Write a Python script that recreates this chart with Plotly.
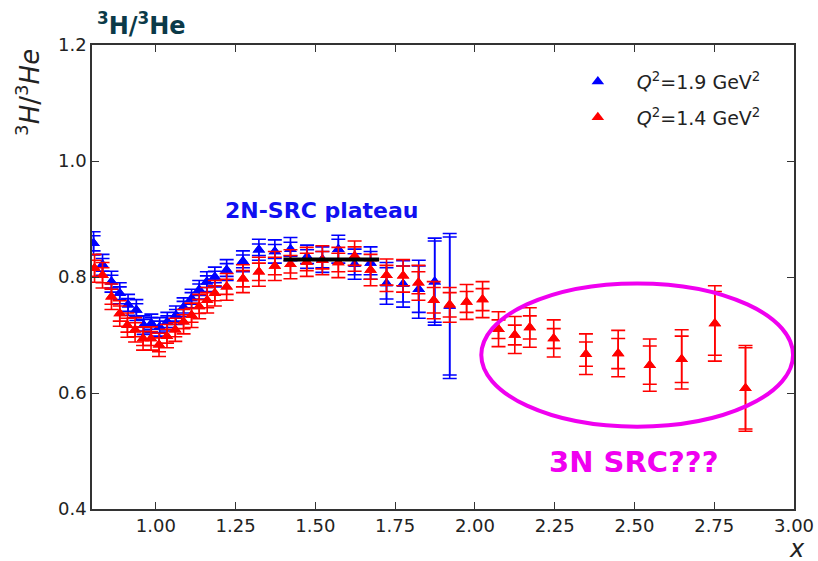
import plotly.graph_objects as go

# Q^2 = 1.9 GeV^2 (blue)
x_hi = [0.805, 0.833, 0.861, 0.887, 0.913, 0.939, 0.962, 0.986, 1.012, 1.036,
        1.063, 1.087, 1.112, 1.136, 1.160, 1.185, 1.222, 1.273, 1.323, 1.373,
        1.422, 1.474, 1.522, 1.572, 1.623, 1.673, 1.723, 1.775, 1.824, 1.874,
        1.921]
y_hi = [0.858, 0.821, 0.792, 0.772, 0.752, 0.743, 0.717, 0.720, 0.714, 0.723,
        0.734, 0.748, 0.763, 0.778, 0.792, 0.800, 0.812, 0.827, 0.847, 0.844,
        0.848, 0.835, 0.830, 0.848, 0.822, 0.824, 0.789, 0.788, 0.779, 0.792,
        0.750]
tot_hi = [0.020, 0.018, 0.018, 0.018, 0.018, 0.018, 0.016, 0.016, 0.016, 0.016,
          0.016, 0.016, 0.016, 0.016, 0.017, 0.017, 0.018, 0.018, 0.018, 0.020,
          0.020, 0.020, 0.022, 0.024, 0.026, 0.028, 0.036, 0.040, 0.050, 0.075,
          0.125]
stat_hi = [0.013, 0.011, 0.011, 0.011, 0.011, 0.011, 0.010, 0.010, 0.010, 0.010,
           0.010, 0.010, 0.010, 0.010, 0.010, 0.010, 0.011, 0.011, 0.010, 0.012,
           0.012, 0.012, 0.014, 0.017, 0.018, 0.020, 0.027, 0.031, 0.040, 0.070,
           0.119]

# Q^2 = 1.4 GeV^2 (red)
x_lo = [0.808, 0.833, 0.861, 0.887, 0.911, 0.935, 0.960, 0.985, 1.010, 1.035,
        1.061, 1.087, 1.112, 1.136, 1.161, 1.185, 1.222, 1.273, 1.323, 1.373,
        1.422, 1.473, 1.522, 1.572, 1.623, 1.673, 1.723, 1.775, 1.823, 1.871,
        1.921, 1.974, 2.024, 2.074, 2.125, 2.172, 2.247, 2.348, 2.449, 2.548,
        2.648, 2.752, 2.848]
y_lo = [0.815, 0.803, 0.766, 0.737, 0.717, 0.709, 0.694, 0.694, 0.683, 0.698,
        0.709, 0.723, 0.734, 0.749, 0.760, 0.772, 0.783, 0.797, 0.809, 0.819,
        0.822, 0.826, 0.829, 0.825, 0.836, 0.812, 0.803, 0.802, 0.790, 0.760,
        0.752, 0.757, 0.761, 0.710, 0.700, 0.713, 0.694, 0.667, 0.668, 0.648,
        0.658, 0.720, 0.608]
tot_lo = [0.024, 0.022, 0.022, 0.022, 0.021, 0.021, 0.020, 0.020, 0.020, 0.020,
          0.020, 0.021, 0.021, 0.021, 0.022, 0.022, 0.023, 0.024, 0.025, 0.025,
          0.025, 0.025, 0.025, 0.026, 0.026, 0.027, 0.028, 0.028, 0.030, 0.032,
          0.030, 0.030, 0.031, 0.030, 0.032, 0.034, 0.032, 0.035, 0.040, 0.045,
          0.051, 0.065, 0.074]
stat_lo = [0.014, 0.013, 0.013, 0.013, 0.012, 0.012, 0.012, 0.012, 0.012, 0.012,
           0.012, 0.012, 0.012, 0.012, 0.013, 0.013, 0.013, 0.014, 0.015, 0.015,
           0.015, 0.015, 0.015, 0.016, 0.016, 0.016, 0.017, 0.017, 0.019, 0.022,
           0.021, 0.018, 0.019, 0.016, 0.017, 0.020, 0.017, 0.021, 0.026, 0.033,
           0.040, 0.055, 0.070]

# 2N-SRC plateau level
plateau_x = [1.40, 1.70]
plateau_y = [0.83, 0.83]

# 3N SRC region outline (x0, x1, y0, y1)
src3_box = [2.02, 2.997, 0.542, 0.789]

x_ticks = [1.00, 1.25, 1.50, 1.75, 2.00, 2.25, 2.50, 2.75, 3.00]
y_ticks = [0.4, 0.6, 0.8, 1.0, 1.2]

BLUE = "#0000ff"
RED = "#ff0000"
MAGENTA = "#f000f0"
TICKFONT = dict(family="DejaVu Sans", size=18, color="#222222")

fig = go.Figure()


def add_series(xs, ys, tot, stat, color, name, group):
    # total uncertainty (outer caps), shown in legend
    fig.add_trace(go.Scatter(
        x=xs, y=ys, mode="markers", name=name, legendgroup=group,
        marker=dict(symbol="triangle-up", size=11, color=color),
        error_y=dict(type="data", array=tot, visible=True, color=color,
                     thickness=1.6, width=7),
    ))
    # statistical uncertainty (inner caps)
    fig.add_trace(go.Scatter(
        x=xs, y=ys, mode="markers", showlegend=False, legendgroup=group,
        marker=dict(symbol="triangle-up", size=11, color=color),
        error_y=dict(type="data", array=stat, visible=True, color=color,
                     thickness=1.6, width=7),
    ))


add_series(x_hi, y_hi, tot_hi, stat_hi, BLUE,
           "<i>Q</i><sup>2</sup>=1.9 GeV<sup>2</sup>", "hi")
add_series(x_lo, y_lo, tot_lo, stat_lo, RED,
           "<i>Q</i><sup>2</sup>=1.4 GeV<sup>2</sup>", "lo")

fig.add_trace(go.Scatter(
    x=plateau_x, y=plateau_y, mode="lines", showlegend=False,
    line=dict(color="black", width=4),
))

fig.add_shape(type="circle", xref="x", yref="y",
              x0=src3_box[0], x1=src3_box[1], y0=src3_box[2], y1=src3_box[3],
              line=dict(color=MAGENTA, width=4))

fig.add_annotation(x=1.52, y=0.914, xref="x", yref="y", showarrow=False,
                   xanchor="center", yanchor="middle",
                   text="<b>2N-SRC plateau</b>",
                   font=dict(family="DejaVu Sans", size=22, color="#1010f0"))
fig.add_annotation(x=2.50, y=0.481, xref="x", yref="y", showarrow=False,
                   xanchor="center", yanchor="middle",
                   text="<b>3N SRC???</b>",
                   font=dict(family="DejaVu Sans", size=29, color=MAGENTA))

# figure title (top left)
fig.add_annotation(x=0.004, y=1.045, xref="paper", yref="paper", showarrow=False,
                   xanchor="left", yanchor="middle",
                   text="<b><sup>3</sup>H/<sup>3</sup>He</b>",
                   font=dict(family="DejaVu Sans", size=24, color="#0b3a48"))

# axis titles
fig.add_annotation(x=-0.091, y=0.897, xref="paper", yref="paper", showarrow=False,
                   xanchor="center", yanchor="middle", textangle=-90,
                   text="<sup>3</sup><i>H</i>/<sup>3</sup><i>He</i>",
                   font=dict(family="DejaVu Sans", size=26, color="#222222"))
fig.add_annotation(x=1.004, y=-0.087, xref="paper", yref="paper", showarrow=False,
                   xanchor="center", yanchor="middle",
                   text="<i>x</i>",
                   font=dict(family="DejaVu Sans", size=24, color="#222222"))

axis_common = dict(showline=True, linecolor="#333333", linewidth=1.5,
                   mirror="ticks", ticks="inside", ticklen=7, tickwidth=1.2,
                   tickcolor="#333333", showgrid=False, zeroline=False,
                   tickfont=TICKFONT)

fig.update_xaxes(range=[0.8, 3.0], tickvals=x_ticks,
                 ticktext=[f"{v:.2f}" for v in x_ticks], **axis_common)
fig.update_yaxes(range=[0.4, 1.2], tickvals=y_ticks,
                 ticktext=[f"{v:.1f}" for v in y_ticks], **axis_common)

fig.update_layout(
    width=818, height=561,
    margin=dict(l=92, r=24, t=45, b=52, autoexpand=False),
    paper_bgcolor="white", plot_bgcolor="white",
    showlegend=True,
    legend=dict(x=0.665, y=0.962, xanchor="left", yanchor="top",
                bgcolor="rgba(255,255,255,0)", borderwidth=0,
                tracegroupgap=8, itemwidth=68,
                font=dict(family="DejaVu Sans", size=19, color="#222222")),
)

fig.write_html("out.html")
